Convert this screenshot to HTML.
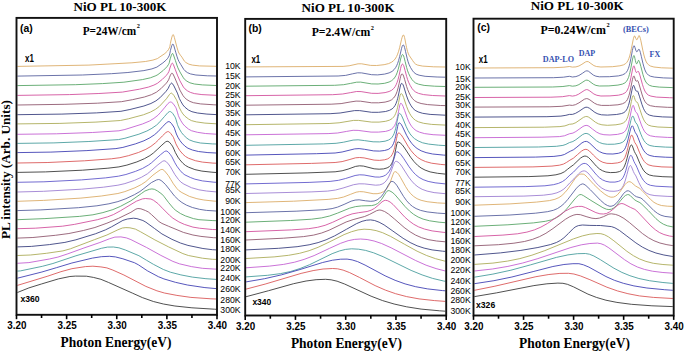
<!DOCTYPE html>
<html><head><meta charset="utf-8"><style>
html,body{margin:0;padding:0;background:#fff;}
body{width:685px;height:351px;overflow:hidden;font-family:"Liberation Sans", sans-serif;}
svg{display:block;}
</style></head><body>
<svg width="685" height="351" viewBox="0 0 685 351">
<rect width="685" height="351" fill="#fff"/>
<defs>
<clipPath id="clipA"><rect x="16.5" y="17.9" width="200.5" height="296.90000000000003"/></clipPath>
<clipPath id="clipB"><rect x="245.2" y="18.9" width="201.0" height="296.6"/></clipPath>
<clipPath id="clipC"><rect x="473.5" y="18.7" width="200.20000000000005" height="296.8"/></clipPath>
</defs>
<g clip-path="url(#clipA)">
<polyline points="17.4,66.4 88.9,65.1 131.9,62.8 145.4,61.5 152.9,60.1 157.4,58.6 164.9,53.5 167.4,51.1 168.4,49.7 169.4,47.8 169.9,46.4 170.4,43.5 170.9,41.0 171.9,37.1 172.4,35.5 172.9,34.7 173.4,34.8 173.9,35.9 174.4,37.6 176.9,47.1 177.9,50.4 178.4,51.9 178.9,53.0 180.4,55.2 181.9,57.1 184.4,61.2 185.9,62.5 188.9,64.2 192.4,65.1 199.4,65.9 216.1,66.3" fill="none" stroke="#d9a860" stroke-width="0.85" stroke-linejoin="round"/>
<polyline points="17.4,76.1 82.4,75.0 111.4,73.7 127.9,72.5 143.9,70.6 151.9,68.9 156.9,67.1 162.9,62.9 165.9,60.3 167.4,58.7 168.4,57.2 169.4,55.2 169.9,53.2 170.4,50.5 171.4,46.9 171.9,45.4 172.4,44.3 172.9,44.0 173.4,44.6 173.9,45.9 175.9,52.8 176.9,56.2 177.9,59.2 178.9,61.4 180.9,64.7 183.9,69.6 184.9,70.7 187.4,72.6 190.4,73.9 195.9,75.0 207.4,75.8 216.1,76.0" fill="none" stroke="#505a9a" stroke-width="0.85" stroke-linejoin="round"/>
<polyline points="17.4,85.6 75.4,84.7 102.4,83.6 123.9,82.2 142.4,79.6 150.4,77.8 155.9,75.7 157.9,74.6 163.4,70.3 166.9,66.8 168.4,64.6 168.9,63.7 169.4,62.3 169.9,60.0 170.4,58.2 171.4,55.2 171.9,54.1 172.4,53.5 172.9,53.7 173.4,54.7 175.4,60.5 176.9,65.1 177.9,67.8 179.9,71.9 183.4,77.8 184.4,79.2 186.9,81.2 189.9,82.8 194.4,84.0 202.4,84.9 216.1,85.5" fill="none" stroke="#50a060" stroke-width="0.85" stroke-linejoin="round"/>
<polyline points="17.4,95.4 69.4,94.6 98.9,93.5 122.4,92.1 139.4,89.2 148.4,87.1 153.9,85.1 157.4,83.3 162.4,79.3 166.4,75.3 167.9,73.3 168.9,71.5 169.4,69.9 169.9,68.0 170.9,65.3 171.4,64.2 171.9,63.4 172.4,63.2 172.9,63.6 173.4,64.6 175.4,69.8 177.4,75.1 179.9,80.8 183.4,87.0 184.9,88.8 187.4,90.8 190.4,92.4 194.4,93.6 201.9,94.6 216.1,95.3" fill="none" stroke="#d04898" stroke-width="0.85" stroke-linejoin="round"/>
<polyline points="17.4,105.0 64.9,104.3 97.4,103.2 121.4,101.7 132.4,99.7 144.4,97.0 151.4,94.7 156.4,92.2 160.9,88.7 166.4,83.1 167.9,81.0 168.9,79.2 169.4,77.6 170.4,75.2 170.9,74.2 171.4,73.5 171.9,73.1 172.4,73.3 172.9,73.9 174.4,76.9 178.4,86.3 179.9,90.1 182.9,95.4 184.4,97.4 186.9,99.6 189.9,101.4 193.4,102.7 200.4,103.9 213.9,104.8 216.1,104.9" fill="none" stroke="#8a5068" stroke-width="0.85" stroke-linejoin="round"/>
<polyline points="17.4,114.7 61.9,114.1 96.4,112.9 120.9,111.3 129.9,109.5 143.9,106.0 150.9,103.5 155.9,100.9 159.9,97.8 165.9,91.5 167.9,88.8 168.4,88.0 169.4,85.7 170.4,84.1 170.9,83.5 171.4,83.1 171.9,83.2 172.4,83.6 173.9,85.9 177.4,93.1 179.4,98.6 180.9,101.5 182.9,104.9 184.9,107.2 188.4,110.0 191.9,111.7 197.4,113.0 206.9,114.1 216.1,114.6" fill="none" stroke="#303878" stroke-width="0.85" stroke-linejoin="round"/>
<polyline points="17.4,123.9 59.9,123.4 95.9,122.1 120.4,120.5 128.4,118.8 143.4,114.8 150.4,112.1 155.4,109.4 159.4,106.4 166.4,98.8 168.4,96.0 169.4,94.6 170.4,93.5 171.4,93.1 172.4,93.7 173.9,95.5 176.4,99.7 176.9,100.7 177.9,103.5 178.9,106.5 179.4,107.8 181.4,111.6 182.9,113.9 184.9,116.2 188.4,118.9 191.4,120.6 196.4,121.9 204.9,123.1 216.1,123.8" fill="none" stroke="#a8a850" stroke-width="0.85" stroke-linejoin="round"/>
<polyline points="17.4,134.3 56.4,133.8 92.4,132.5 118.9,130.8 124.9,129.5 142.4,124.0 149.4,121.1 153.9,118.4 157.9,115.3 160.4,112.6 164.4,107.9 167.9,103.6 169.4,102.4 170.4,102.0 171.4,102.2 172.9,103.3 174.9,106.1 175.9,107.7 176.4,108.9 177.4,112.2 178.4,115.6 178.9,116.9 180.9,120.8 182.9,123.9 184.9,126.1 188.4,129.0 191.4,130.7 197.4,132.3 205.4,133.5 216.1,134.2" fill="none" stroke="#c058d0" stroke-width="0.85" stroke-linejoin="round"/>
<polyline points="17.4,143.4 53.9,142.9 88.9,141.5 118.4,139.6 124.9,138.3 138.9,134.2 146.9,131.0 151.9,128.3 156.4,125.2 158.9,122.9 164.4,116.6 167.9,112.6 169.4,111.6 170.4,111.6 171.4,112.1 172.9,113.7 174.9,116.8 175.4,117.8 175.9,119.2 177.4,124.4 177.9,125.8 179.4,129.0 181.4,132.4 183.4,134.9 186.9,138.2 189.4,139.9 193.9,141.6 200.4,143.0 212.4,143.9 216.1,144.0" fill="none" stroke="#409898" stroke-width="0.85" stroke-linejoin="round"/>
<polyline points="17.4,152.6 50.9,152.1 86.9,150.6 115.9,148.6 122.9,147.4 135.4,143.9 143.9,140.8 149.9,137.8 154.4,134.8 157.9,131.8 162.9,126.4 166.4,122.8 167.9,121.8 168.9,121.6 169.9,122.0 171.4,123.4 173.9,127.1 174.4,128.2 176.4,134.0 177.9,137.2 179.9,140.5 181.9,143.1 184.9,146.1 187.9,148.2 192.4,150.0 198.4,151.5 207.9,152.6 216.1,153.0" fill="none" stroke="#3838b0" stroke-width="0.85" stroke-linejoin="round"/>
<polyline points="17.4,163.0 47.9,162.5 84.4,160.8 111.4,158.8 119.9,157.7 128.4,155.7 138.4,152.5 145.9,149.3 150.9,146.4 155.4,142.9 158.4,140.0 162.4,135.9 165.9,132.5 167.4,131.7 168.4,131.6 169.4,132.1 170.9,133.7 172.9,136.5 173.4,137.3 174.4,139.8 175.9,143.8 177.9,147.6 179.9,150.7 182.9,154.2 185.4,156.4 188.4,158.2 195.4,160.7 202.4,162.1 212.9,163.1 216.1,163.2" fill="none" stroke="#d85050" stroke-width="0.85" stroke-linejoin="round"/>
<polyline points="17.4,172.4 45.4,171.9 82.4,170.2 107.9,168.2 118.9,166.9 126.9,165.1 136.9,161.9 144.4,158.7 149.9,155.6 153.4,153.0 157.9,148.9 161.9,145.1 165.4,142.0 166.9,141.3 167.9,141.3 169.4,142.2 171.4,144.6 172.9,146.9 173.9,149.1 175.4,152.6 177.9,157.1 179.9,159.9 182.9,163.3 185.4,165.4 188.4,167.1 194.9,169.6 201.9,171.1 211.9,172.2 216.1,172.5" fill="none" stroke="#303030" stroke-width="0.85" stroke-linejoin="round"/>
<polyline points="17.4,182.3 43.9,181.8 81.4,179.9 105.4,177.9 118.4,176.2 125.9,174.5 135.4,171.4 142.4,168.5 148.4,165.1 151.4,162.9 160.4,154.8 164.4,151.6 165.9,151.0 166.9,151.1 168.4,152.2 170.4,154.6 171.9,156.8 174.9,162.8 176.9,166.2 179.9,170.2 182.4,173.0 184.9,174.9 190.4,177.5 194.9,179.2 202.4,180.9 213.9,182.2 216.1,182.3" fill="none" stroke="#5850c8" stroke-width="0.85" stroke-linejoin="round"/>
<polyline points="17.4,192.0 43.4,191.3 81.4,189.2 103.4,187.2 117.9,185.2 124.9,183.6 134.4,180.4 141.4,177.3 147.4,173.8 150.9,170.9 157.9,164.8 162.4,161.4 163.9,160.8 164.9,160.9 166.4,161.8 168.4,164.0 170.4,166.8 174.9,174.6 178.4,179.4 180.9,182.1 183.9,184.1 191.4,187.7 198.9,189.8 206.4,191.0 216.1,191.9" fill="none" stroke="#9878d0" stroke-width="0.85" stroke-linejoin="round"/>
<polyline points="17.4,201.3 43.4,200.4 80.9,198.1 101.4,196.0 117.9,193.5 124.9,191.6 134.9,187.8 141.4,184.5 145.9,181.5 152.9,175.2 156.9,172.2 160.4,169.8 161.9,169.4 162.9,169.6 164.4,170.7 168.4,175.6 170.9,179.7 173.4,183.8 176.9,188.5 178.9,190.6 181.9,192.6 189.4,196.4 196.9,198.7 203.9,200.0 213.9,201.1 216.1,201.2" fill="none" stroke="#d9a860" stroke-width="0.85" stroke-linejoin="round"/>
<polyline points="17.4,210.6 40.9,209.9 78.4,207.7 96.9,205.8 108.9,203.8 117.9,201.6 125.9,198.7 134.4,194.7 139.9,191.5 143.9,188.5 151.4,182.6 156.4,180.0 158.4,179.5 159.9,179.8 161.9,181.1 165.4,184.4 170.4,190.7 174.4,195.9 178.4,199.8 181.9,202.5 186.4,205.1 192.4,207.5 199.4,209.3 206.4,210.4 216.1,211.0" fill="none" stroke="#505a9a" stroke-width="0.85" stroke-linejoin="round"/>
<polyline points="17.4,219.7 44.9,218.6 79.4,216.4 92.9,214.8 102.9,212.6 112.9,209.6 120.4,206.4 130.9,200.8 141.4,193.5 144.9,191.0 149.4,189.3 151.9,188.9 154.4,189.3 157.4,190.9 161.9,194.1 163.9,196.3 168.4,202.3 173.4,208.3 175.9,210.5 180.4,213.5 185.4,215.9 193.4,218.6 198.9,219.7 212.9,220.6 216.1,220.7" fill="none" stroke="#50a060" stroke-width="0.85" stroke-linejoin="round"/>
<polyline points="17.4,228.7 35.4,228.2 62.4,226.2 74.4,224.4 97.4,219.7 107.4,216.9 113.4,214.6 120.4,210.8 136.4,201.2 142.4,198.9 145.4,198.5 150.9,199.0 153.4,200.2 157.9,203.5 162.4,208.2 169.4,215.2 172.9,218.2 178.9,221.9 184.4,224.4 192.9,227.1 199.4,228.2 212.4,229.5 216.1,229.6" fill="none" stroke="#d04898" stroke-width="0.85" stroke-linejoin="round"/>
<polyline points="17.4,238.1 32.9,237.5 55.4,235.3 68.9,233.5 83.4,230.5 94.9,227.5 106.9,223.2 118.4,218.4 130.9,212.3 135.9,209.1 137.9,208.5 140.9,208.8 145.4,210.5 148.4,212.0 151.4,214.5 158.9,221.5 161.9,223.4 168.4,226.2 183.4,232.4 192.9,235.0 200.9,236.4 213.4,237.7 216.1,237.8" fill="none" stroke="#8a5068" stroke-width="0.85" stroke-linejoin="round"/>
<polyline points="17.4,246.9 31.4,246.4 49.4,244.6 64.9,242.4 75.9,239.8 95.4,233.8 105.4,229.9 111.4,226.9 122.9,220.4 127.4,219.0 133.4,218.2 136.9,218.6 142.9,220.5 145.9,222.2 154.4,228.4 161.9,233.9 171.9,239.3 180.4,243.0 187.9,245.4 202.9,248.5 212.4,249.7 216.1,249.9" fill="none" stroke="#303878" stroke-width="0.85" stroke-linejoin="round"/>
<polyline points="17.4,255.5 30.4,255.0 46.4,253.3 62.9,250.9 70.4,248.8 94.4,239.7 106.9,235.0 117.9,229.8 122.4,228.0 125.9,227.6 129.9,227.8 135.4,229.1 140.4,231.7 154.9,239.9 168.4,246.8 182.9,253.6 188.4,255.5 202.4,258.2 212.4,259.3 216.1,259.4" fill="none" stroke="#a8a850" stroke-width="0.85" stroke-linejoin="round"/>
<polyline points="17.4,263.3 28.9,262.6 49.4,259.0 57.9,257.1 67.9,253.8 83.9,248.0 99.9,242.5 109.4,238.8 114.9,237.1 120.9,236.9 126.4,237.9 130.9,239.6 146.4,247.4 160.9,255.4 172.9,261.4 179.4,263.8 191.4,266.6 202.4,268.3 214.9,269.1 216.1,269.1" fill="none" stroke="#c058d0" stroke-width="0.85" stroke-linejoin="round"/>
<polyline points="17.4,271.1 20.4,270.9 42.4,266.3 52.9,263.5 75.9,255.8 101.4,248.3 107.4,247.1 113.4,247.0 118.9,247.8 125.4,250.0 138.9,255.7 146.4,260.2 153.4,264.3 163.4,269.5 170.4,272.2 180.9,274.9 192.4,277.1 205.9,278.7 216.1,279.4" fill="none" stroke="#409898" stroke-width="0.85" stroke-linejoin="round"/>
<polyline points="17.4,278.2 41.9,272.0 56.4,267.7 71.9,263.0 92.4,258.1 101.4,256.7 109.4,256.3 115.4,256.9 122.9,258.8 134.4,262.7 138.4,264.8 147.4,270.8 158.4,276.7 163.9,278.9 175.4,282.3 187.4,285.0 204.9,287.6 216.1,288.6" fill="none" stroke="#3838b0" stroke-width="0.85" stroke-linejoin="round"/>
<polyline points="17.4,285.4 47.9,276.1 60.9,271.7 71.9,268.7 85.4,266.6 92.9,266.2 100.9,266.9 106.9,267.9 112.9,270.1 123.9,275.0 145.9,286.4 156.9,290.8 164.4,293.0 176.9,295.4 190.9,297.4 210.9,298.8 216.1,299.0" fill="none" stroke="#d85050" stroke-width="0.85" stroke-linejoin="round"/>
<polyline points="17.4,292.5 28.9,287.9 41.4,284.0 58.4,278.9 69.9,276.5 75.4,276.1 86.4,276.2 93.4,277.4 100.9,279.3 108.4,282.4 132.4,293.1 142.4,297.6 153.4,301.5 163.4,304.0 174.9,306.0 191.9,307.8 214.4,309.2 216.1,309.3" fill="none" stroke="#303030" stroke-width="0.85" stroke-linejoin="round"/>
</g>
<g clip-path="url(#clipB)">
<polyline points="246.1,66.9 343.1,66.4 349.1,65.8 358.1,63.8 361.6,63.8 370.6,65.4 376.6,65.5 384.1,64.7 388.6,63.6 391.6,62.2 393.6,60.7 395.1,59.0 396.6,56.5 397.6,54.2 398.6,51.3 399.6,47.7 401.6,39.2 402.1,37.4 402.6,35.9 403.1,35.1 403.6,35.0 404.1,35.9 404.6,37.6 405.1,40.0 406.1,45.3 406.6,47.7 407.1,49.8 407.6,51.6 408.1,53.1 409.1,55.3 412.6,60.5 414.1,62.7 415.6,64.1 417.6,65.1 422.6,66.1 433.6,66.8 445.3,67.0" fill="none" stroke="#d9a860" stroke-width="0.85" stroke-linejoin="round"/>
<polyline points="246.1,76.9 338.1,76.0 345.6,75.4 352.6,73.8 357.6,72.8 361.6,72.9 371.6,74.7 377.6,74.9 384.6,74.1 389.1,72.9 392.1,71.4 394.1,69.6 395.6,67.6 396.6,65.8 397.6,63.5 398.6,60.5 399.6,56.7 401.6,48.3 402.1,46.6 402.6,45.4 403.1,44.9 403.6,45.1 404.1,46.0 404.6,47.5 405.6,51.7 407.1,58.2 408.1,61.8 409.1,64.5 410.6,67.6 412.6,70.8 414.1,72.6 416.1,74.1 419.1,75.2 425.1,76.3 437.1,77.0 445.3,77.2" fill="none" stroke="#505a9a" stroke-width="0.85" stroke-linejoin="round"/>
<polyline points="246.1,86.2 334.6,85.3 343.6,84.7 350.6,83.4 356.6,82.2 360.6,82.1 371.6,83.9 378.1,84.0 384.6,83.3 389.1,82.0 391.6,80.7 393.6,79.0 395.1,77.0 396.1,75.2 397.1,72.8 398.1,69.7 399.1,65.8 400.6,59.1 401.1,57.2 401.6,55.7 402.1,54.8 402.6,54.5 403.1,54.9 403.6,55.9 404.1,57.4 405.1,61.4 406.6,67.4 407.6,70.8 408.6,73.4 410.1,76.5 412.1,79.7 413.6,81.4 415.6,83.0 418.6,84.2 424.1,85.4 434.6,86.2 445.3,86.5" fill="none" stroke="#50a060" stroke-width="0.85" stroke-linejoin="round"/>
<polyline points="246.1,95.7 332.6,94.7 342.6,94.0 350.6,92.6 356.6,91.5 361.1,91.6 371.6,93.3 378.1,93.4 385.1,92.6 389.1,91.5 391.6,90.3 393.6,88.6 395.1,86.7 396.1,84.8 397.1,82.4 398.1,79.3 399.1,75.3 400.6,68.4 401.1,66.4 401.6,65.0 402.1,64.3 402.6,64.1 403.1,64.5 403.6,65.5 404.1,66.9 405.1,70.6 406.6,76.3 407.6,79.6 408.6,82.2 410.1,85.3 412.1,88.6 413.6,90.4 415.6,92.0 418.6,93.4 423.6,94.6 432.6,95.5 445.3,96.0" fill="none" stroke="#d04898" stroke-width="0.85" stroke-linejoin="round"/>
<polyline points="246.1,105.2 331.1,104.2 341.1,103.6 350.1,102.0 356.1,101.1 360.6,101.2 371.6,102.8 378.6,102.8 385.1,102.1 389.1,101.0 391.6,99.8 393.6,98.0 395.1,96.0 396.1,94.0 397.1,91.4 398.1,87.9 399.1,83.6 400.1,78.8 400.6,76.6 401.1,75.0 401.6,74.1 402.1,73.9 402.6,74.2 403.1,74.9 403.6,76.1 404.6,79.3 406.6,86.4 407.6,89.4 409.1,92.9 410.6,95.8 412.6,98.7 414.6,100.7 417.1,102.2 421.1,103.5 427.6,104.6 440.6,105.5 445.3,105.6" fill="none" stroke="#8a5068" stroke-width="0.85" stroke-linejoin="round"/>
<polyline points="246.1,114.8 330.1,113.7 340.1,113.0 354.6,110.6 359.6,110.6 371.6,112.3 378.6,112.3 385.6,111.5 389.6,110.3 392.1,108.9 393.6,107.5 395.1,105.4 396.1,103.3 397.1,100.5 397.6,98.7 398.1,96.7 399.1,92.0 400.1,87.1 400.6,85.1 401.1,83.8 401.6,83.4 402.1,83.5 402.6,84.0 403.1,84.9 403.6,86.1 405.1,91.0 406.6,95.9 408.1,100.0 409.6,103.2 411.1,105.8 413.1,108.5 415.1,110.3 418.1,111.9 422.6,113.3 430.1,114.4 445.1,115.2 445.3,115.2" fill="none" stroke="#303878" stroke-width="0.85" stroke-linejoin="round"/>
<polyline points="246.1,124.7 329.1,123.5 339.1,122.8 353.6,120.4 358.6,120.4 371.6,122.1 379.1,122.1 385.6,121.3 389.6,120.1 392.1,118.6 393.6,117.1 394.6,115.7 395.6,113.7 396.6,111.0 397.1,109.3 397.6,107.3 398.6,102.5 399.6,97.4 400.1,95.3 400.6,94.0 401.1,93.6 401.6,93.7 402.1,94.2 402.6,95.0 403.6,97.4 406.6,106.4 408.1,110.2 409.6,113.3 411.1,115.8 413.1,118.3 415.6,120.4 418.6,121.9 423.6,123.3 431.6,124.4 445.3,125.1" fill="none" stroke="#a8a850" stroke-width="0.85" stroke-linejoin="round"/>
<polyline points="246.1,134.8 328.1,133.6 337.6,133.0 346.6,131.4 353.1,130.3 358.1,130.4 371.1,132.1 378.6,132.1 385.6,131.4 389.1,130.4 391.6,129.1 393.1,127.7 394.6,125.6 395.6,123.4 396.1,122.1 396.6,120.5 397.1,118.6 397.6,116.4 398.6,111.2 399.1,108.5 399.6,106.0 400.1,104.2 400.6,103.3 401.1,103.3 401.6,103.7 402.1,104.4 403.1,106.4 404.6,110.4 407.1,117.5 408.6,121.1 410.1,124.0 411.6,126.3 413.6,128.6 416.1,130.6 419.6,132.2 424.6,133.6 433.1,134.7 445.3,135.3" fill="none" stroke="#c058d0" stroke-width="0.85" stroke-linejoin="round"/>
<polyline points="246.1,145.3 323.6,143.9 336.1,143.3 343.6,142.2 353.1,140.1 358.1,139.8 364.6,140.6 373.1,141.8 379.6,141.9 385.1,141.2 388.6,140.0 390.6,138.8 392.1,137.2 393.1,135.7 394.1,133.6 395.1,130.6 395.6,128.8 396.1,126.6 397.1,121.6 398.1,116.5 398.6,114.6 399.1,113.6 399.6,113.4 400.6,114.1 401.6,115.7 403.1,119.0 406.1,126.4 408.1,130.6 410.1,133.9 412.1,136.4 414.6,138.7 418.1,140.9 422.6,142.8 428.6,144.1 438.6,145.2 445.3,145.6" fill="none" stroke="#409898" stroke-width="0.85" stroke-linejoin="round"/>
<polyline points="246.1,155.1 316.6,153.7 335.1,153.0 342.1,152.0 354.6,148.9 359.1,148.6 364.6,149.3 373.6,150.9 379.6,151.1 384.6,150.5 388.1,149.5 390.1,148.3 391.6,146.8 392.6,145.3 393.6,143.3 394.6,140.4 395.1,138.6 395.6,136.6 396.6,131.7 397.6,126.6 398.1,124.5 398.6,123.2 399.1,122.8 400.1,123.2 401.1,124.2 402.6,126.9 406.6,135.3 409.1,139.7 411.6,143.2 414.1,146.0 417.1,148.5 421.1,150.8 426.1,152.6 432.6,154.0 443.6,155.1 445.3,155.2" fill="none" stroke="#3838b0" stroke-width="0.85" stroke-linejoin="round"/>
<polyline points="246.1,164.8 311.6,163.4 335.1,162.5 342.1,161.6 349.1,159.7 355.6,157.8 359.6,157.5 364.1,157.9 374.1,160.1 379.6,160.4 384.6,159.8 387.6,158.9 389.6,157.7 391.1,156.2 392.1,154.7 393.1,152.6 394.1,149.6 394.6,147.8 395.6,143.3 396.6,138.3 397.1,135.9 397.6,134.2 398.1,133.2 398.6,133.0 399.6,133.3 401.1,134.7 403.1,137.7 408.1,146.3 411.1,150.7 414.1,154.2 417.6,157.4 421.1,159.6 425.6,161.6 431.6,163.2 440.6,164.4 445.3,164.8" fill="none" stroke="#d85050" stroke-width="0.85" stroke-linejoin="round"/>
<polyline points="246.1,174.3 307.1,172.9 335.1,171.8 342.1,170.8 348.1,169.1 355.6,166.4 359.6,165.8 363.6,166.1 374.1,168.8 379.1,169.2 383.6,168.9 387.1,167.9 389.1,166.8 390.6,165.3 391.6,163.8 392.6,161.7 393.6,158.8 394.1,156.9 394.6,154.8 395.6,149.9 396.6,145.0 397.1,143.2 397.6,142.1 398.6,142.1 400.1,142.8 402.1,144.6 404.6,148.0 410.6,157.2 414.1,161.7 417.6,165.3 421.1,168.0 425.1,170.1 430.1,171.9 437.6,173.3 445.3,174.1" fill="none" stroke="#303030" stroke-width="0.85" stroke-linejoin="round"/>
<polyline points="246.1,183.9 309.1,182.4 330.1,181.4 338.6,180.3 345.6,178.5 355.1,175.5 359.6,174.8 364.1,175.0 375.1,177.0 379.6,177.1 383.1,176.3 385.6,175.1 387.6,173.3 389.1,171.4 390.6,168.7 391.6,166.4 392.6,163.5 394.1,158.4 395.1,154.9 395.6,153.4 396.1,152.4 396.6,151.8 397.6,151.9 399.1,152.7 401.1,154.8 403.6,158.3 409.1,166.8 412.6,171.4 415.6,174.6 419.1,177.4 423.1,179.6 428.1,181.4 435.1,182.8 445.3,183.9" fill="none" stroke="#5850c8" stroke-width="0.85" stroke-linejoin="round"/>
<polyline points="246.1,193.5 311.1,191.9 327.6,191.1 335.6,190.0 343.1,188.0 353.6,184.7 359.1,183.8 364.6,183.9 375.6,185.2 379.6,184.9 382.1,184.1 384.1,182.9 386.1,180.9 387.6,178.8 389.1,176.0 390.6,172.5 393.6,164.5 394.6,162.4 395.1,161.8 395.6,161.4 396.6,161.4 398.1,162.1 399.6,163.4 401.6,166.0 408.6,177.0 411.6,180.9 414.6,184.2 418.1,187.0 422.1,189.3 427.1,191.1 434.1,192.6 445.3,193.7" fill="none" stroke="#9878d0" stroke-width="0.85" stroke-linejoin="round"/>
<polyline points="246.1,202.6 293.6,201.2 328.1,199.4 337.6,198.4 343.6,197.0 350.6,194.3 356.1,192.2 359.6,191.6 363.6,191.8 373.1,193.7 377.1,193.7 380.6,193.0 383.6,191.6 385.6,189.9 387.1,188.2 388.6,185.8 390.1,182.5 392.1,177.0 393.1,174.3 393.6,173.1 394.1,172.3 394.6,171.7 395.6,171.7 397.1,172.6 398.6,174.3 400.6,177.6 405.6,186.6 408.1,190.5 410.6,193.6 413.6,196.4 417.1,198.7 421.1,200.3 427.1,201.7 437.6,202.9 445.3,203.3" fill="none" stroke="#d9a860" stroke-width="0.85" stroke-linejoin="round"/>
<polyline points="246.1,212.7 296.1,211.2 324.1,209.7 332.1,208.6 337.6,207.1 344.1,204.4 351.1,201.2 355.1,200.1 359.1,199.8 365.6,200.8 370.6,201.3 374.1,201.0 377.1,199.9 379.6,198.1 381.6,196.1 383.6,193.4 386.1,189.2 388.6,184.6 390.1,182.5 391.1,181.6 392.1,181.4 393.6,181.9 395.1,183.2 397.1,185.8 403.6,196.5 406.6,200.7 409.6,204.0 412.6,206.5 416.1,208.6 420.6,210.4 427.1,211.9 437.6,213.1 445.3,213.6" fill="none" stroke="#505a9a" stroke-width="0.85" stroke-linejoin="round"/>
<polyline points="246.1,222.2 290.6,220.5 311.6,219.2 321.6,217.9 329.6,216.0 337.6,213.1 349.6,208.2 355.6,206.6 361.6,205.9 371.6,205.6 375.1,204.8 377.6,203.5 379.6,201.8 381.6,199.4 384.6,194.7 386.1,192.4 387.1,191.2 388.1,190.6 389.6,190.8 392.1,192.2 394.6,194.3 398.6,198.9 405.1,206.6 409.6,211.1 413.6,214.3 418.1,217.0 423.1,219.1 429.6,220.8 439.1,222.2 445.3,222.7" fill="none" stroke="#50a060" stroke-width="0.85" stroke-linejoin="round"/>
<polyline points="246.1,231.7 291.6,229.9 308.6,228.7 317.6,227.3 325.1,225.3 332.6,222.3 346.1,216.0 352.1,213.9 358.6,212.7 367.1,211.5 371.1,210.2 374.6,208.3 378.1,205.4 382.1,201.8 384.1,200.6 385.6,200.3 387.6,200.7 390.1,202.0 393.1,204.5 398.6,210.4 404.6,216.9 409.1,220.9 413.6,224.2 418.6,226.9 424.6,229.1 432.1,230.9 443.1,232.3 445.3,232.5" fill="none" stroke="#d04898" stroke-width="0.85" stroke-linejoin="round"/>
<polyline points="246.1,240.0 283.6,238.2 303.6,236.6 313.6,235.1 321.6,233.0 329.1,230.2 346.1,222.0 353.1,219.6 364.6,216.5 369.6,214.4 376.6,210.7 379.1,210.0 381.1,210.2 384.6,211.5 388.6,214.1 394.6,219.1 404.1,227.4 410.1,231.8 415.6,235.1 421.6,237.7 428.1,239.6 436.6,241.0 445.3,241.8" fill="none" stroke="#8a5068" stroke-width="0.85" stroke-linejoin="round"/>
<polyline points="246.1,249.9 278.6,248.3 297.1,246.7 309.1,244.8 318.1,242.6 326.1,239.8 334.6,235.9 346.6,229.2 356.6,223.6 362.1,221.3 366.6,220.2 370.6,219.9 374.6,220.5 379.1,222.2 384.1,224.9 392.1,230.5 403.1,238.3 410.1,242.5 417.1,245.8 424.1,248.1 432.1,249.9 442.6,251.2 445.3,251.4" fill="none" stroke="#303878" stroke-width="0.85" stroke-linejoin="round"/>
<polyline points="246.1,258.5 274.1,256.9 288.6,255.3 299.6,253.3 309.1,250.7 318.1,247.3 329.1,242.1 344.1,234.6 351.6,231.7 358.1,229.9 364.1,229.2 370.1,229.5 376.1,230.6 382.6,232.7 390.6,236.4 404.6,244.3 417.1,251.2 426.6,255.5 435.6,258.7 445.1,261.2 445.3,261.2" fill="none" stroke="#a8a850" stroke-width="0.85" stroke-linejoin="round"/>
<polyline points="246.1,267.8 269.6,266.1 283.6,264.4 294.6,262.2 304.1,259.4 314.1,255.6 329.6,248.3 340.6,243.3 348.1,240.7 354.6,239.4 360.6,239.0 367.1,239.5 374.1,241.0 381.6,243.5 391.1,247.8 415.6,260.5 426.1,265.2 436.1,268.6 445.3,271.0" fill="none" stroke="#c058d0" stroke-width="0.85" stroke-linejoin="round"/>
<polyline points="246.1,276.9 267.6,275.3 280.6,273.6 290.6,271.5 300.1,268.5 309.6,264.7 332.1,253.7 339.6,250.9 345.6,249.4 351.6,248.8 358.6,249.2 365.6,250.4 373.6,252.8 383.1,256.7 411.1,270.4 422.1,274.9 432.6,278.4 443.6,281.0 445.3,281.3" fill="none" stroke="#409898" stroke-width="0.85" stroke-linejoin="round"/>
<polyline points="246.1,281.9 264.6,278.7 281.6,274.8 299.1,269.8 322.6,262.5 332.6,260.2 340.6,259.2 347.1,259.1 352.1,259.9 357.6,261.6 365.1,265.1 385.1,275.8 395.1,280.3 405.1,283.9 415.6,286.7 427.6,288.9 442.6,290.6 445.3,290.8" fill="none" stroke="#3838b0" stroke-width="0.85" stroke-linejoin="round"/>
<polyline points="246.1,289.1 265.1,284.1 301.1,273.4 313.1,270.6 323.1,269.0 332.6,268.5 337.6,268.8 343.1,270.1 349.6,272.6 359.6,277.5 375.1,285.6 385.6,290.2 395.6,293.7 406.6,296.6 419.1,298.9 434.6,300.6 445.3,301.4" fill="none" stroke="#d85050" stroke-width="0.85" stroke-linejoin="round"/>
<polyline points="246.1,296.7 268.6,290.7 293.6,283.7 306.1,281.0 316.1,279.7 325.6,279.3 331.1,279.8 337.1,281.2 344.6,284.0 371.1,296.2 382.6,300.6 394.1,304.0 406.6,306.8 421.1,309.1 439.6,310.8 445.3,311.2" fill="none" stroke="#303030" stroke-width="0.85" stroke-linejoin="round"/>
</g>
<g clip-path="url(#clipC)">
<polyline points="474.4,68.0 553.9,67.7 563.9,67.2 569.4,66.5 572.4,67.1 575.9,66.9 578.9,66.0 581.9,64.3 585.4,62.0 586.9,61.5 588.4,61.7 590.9,63.5 593.9,65.6 596.4,66.5 600.9,67.0 612.4,66.7 619.9,65.8 623.4,64.9 625.4,63.8 626.9,62.3 627.9,60.7 628.9,58.4 629.4,56.9 629.9,55.2 630.4,53.3 631.4,48.6 632.9,41.0 633.4,38.7 633.9,37.0 634.4,35.9 634.9,36.1 635.9,38.6 636.4,39.6 636.9,39.8 637.4,39.2 638.4,36.6 638.9,35.6 639.4,35.8 639.9,37.0 640.4,38.7 640.9,40.8 642.9,50.7 643.9,55.0 644.9,58.5 645.9,61.1 646.9,63.0 648.4,64.7 650.4,66.0 653.9,67.0 661.4,67.8 672.8,68.2" fill="none" stroke="#d9a860" stroke-width="0.85" stroke-linejoin="round"/>
<polyline points="474.4,78.0 553.4,77.7 563.4,77.2 569.4,76.3 572.4,77.0 575.9,76.6 578.9,75.5 582.4,73.3 585.4,71.2 586.9,70.8 588.4,71.2 593.4,75.1 595.9,76.2 599.4,76.8 609.4,76.7 618.4,75.9 622.4,74.9 624.9,73.7 626.4,72.2 627.4,70.7 628.4,68.4 628.9,66.9 629.4,65.2 629.9,63.2 630.9,58.4 632.4,50.4 632.9,48.2 633.4,46.6 633.9,45.7 634.4,46.0 634.9,47.3 635.9,50.5 636.4,51.5 636.9,51.8 637.4,51.4 638.4,49.5 638.9,49.1 639.4,49.7 639.9,50.9 640.4,52.6 641.4,56.7 642.9,63.2 643.9,66.9 644.9,69.9 645.9,72.1 646.9,73.6 648.4,75.1 650.4,76.2 654.4,77.1 663.4,77.9 672.8,78.2" fill="none" stroke="#505a9a" stroke-width="0.85" stroke-linejoin="round"/>
<polyline points="474.4,87.3 552.4,87.0 562.9,86.5 569.4,85.6 572.4,86.2 575.9,85.8 578.9,84.6 582.9,82.0 585.4,80.4 586.9,80.1 588.4,80.5 593.4,84.2 595.9,85.4 599.4,86.0 608.9,85.9 617.9,85.1 622.4,84.1 624.9,82.9 626.4,81.5 627.4,79.9 628.4,77.7 628.9,76.2 629.4,74.5 629.9,72.5 630.9,67.8 632.4,59.9 632.9,57.8 633.4,56.2 633.9,55.5 634.4,56.2 634.9,58.3 635.4,60.6 635.9,62.6 636.4,63.7 636.9,63.7 637.4,62.9 637.9,61.5 638.4,60.4 638.9,60.5 639.4,61.6 639.9,63.0 640.9,66.6 642.9,74.4 643.9,77.6 644.9,80.1 645.9,82.0 647.4,83.9 649.4,85.3 652.4,86.3 659.4,87.1 672.8,87.6" fill="none" stroke="#50a060" stroke-width="0.85" stroke-linejoin="round"/>
<polyline points="474.4,97.5 550.9,97.2 562.4,96.7 569.4,95.6 572.4,96.1 575.4,95.6 578.4,94.3 584.9,90.1 586.4,89.6 587.9,89.8 589.9,91.0 593.9,94.0 596.9,95.3 600.9,96.0 609.9,95.9 618.4,95.2 622.4,94.2 624.9,93.0 626.4,91.5 627.4,90.0 628.4,87.7 628.9,86.2 629.4,84.4 629.9,82.4 630.9,77.7 632.4,70.0 632.9,67.9 633.4,66.4 633.9,65.8 634.4,66.6 635.4,70.4 635.9,71.9 636.4,72.6 636.9,72.4 637.9,71.3 638.4,71.5 638.9,72.3 639.9,75.2 642.4,84.3 643.4,87.4 644.4,90.0 645.4,91.9 646.9,93.9 648.4,95.1 650.9,96.1 656.4,97.1 669.4,97.7 672.8,97.8" fill="none" stroke="#d04898" stroke-width="0.85" stroke-linejoin="round"/>
<polyline points="474.4,107.1 549.9,106.8 561.9,106.3 569.4,105.1 572.4,105.4 575.4,104.7 578.9,102.9 584.4,99.2 586.4,98.6 587.9,98.8 589.9,99.9 594.4,103.2 597.4,104.6 601.4,105.4 609.4,105.4 617.9,104.8 622.4,103.8 624.9,102.5 626.4,101.1 627.4,99.5 628.4,97.2 628.9,95.7 629.4,93.9 629.9,91.9 630.9,87.2 631.9,82.1 632.4,79.7 632.9,77.8 633.4,76.4 633.9,75.9 634.4,76.7 635.4,80.0 635.9,81.0 636.4,81.2 637.4,80.5 637.9,80.9 638.9,83.7 641.9,94.0 642.9,97.0 643.9,99.5 644.9,101.4 646.4,103.4 647.9,104.6 650.4,105.7 655.4,106.6 667.4,107.3 672.8,107.4" fill="none" stroke="#8a5068" stroke-width="0.85" stroke-linejoin="round"/>
<polyline points="474.4,117.1 546.9,116.7 560.9,116.1 565.9,115.3 569.4,114.4 572.4,114.4 575.4,113.4 578.9,111.4 583.9,108.0 585.9,107.2 587.4,107.3 589.4,108.2 594.9,112.4 597.9,113.9 601.4,114.8 607.4,115.1 616.4,114.5 621.4,113.6 623.9,112.6 625.4,111.4 626.4,110.1 627.4,108.3 628.4,105.6 628.9,104.0 629.9,99.9 631.9,90.2 632.4,88.0 632.9,86.4 633.4,85.5 633.9,85.5 634.4,86.7 635.4,89.9 635.9,90.8 636.4,91.1 637.4,91.0 637.9,91.7 639.4,96.2 641.9,104.3 643.4,108.3 644.4,110.4 645.9,112.6 647.4,114.1 649.4,115.1 653.4,116.1 662.4,116.9 672.8,117.2" fill="none" stroke="#303878" stroke-width="0.85" stroke-linejoin="round"/>
<polyline points="474.4,127.6 544.4,127.2 559.9,126.6 564.9,125.9 569.4,124.3 572.9,123.9 575.9,122.6 583.4,117.4 585.4,116.6 586.9,116.5 588.4,117.0 590.9,118.7 595.4,122.2 598.4,123.8 601.9,124.8 607.4,125.3 615.9,124.8 620.9,123.9 623.4,122.9 624.9,121.8 625.9,120.7 626.9,118.9 627.9,116.4 628.9,113.0 629.9,108.6 631.4,101.3 631.9,99.1 632.4,97.2 632.9,95.9 633.4,95.5 633.9,96.1 634.4,97.5 634.9,99.2 635.4,100.6 635.9,101.5 636.4,101.9 636.9,102.0 637.4,102.4 637.9,103.4 639.9,109.4 641.9,115.4 643.4,119.1 644.9,121.8 646.4,123.6 648.4,125.1 651.4,126.1 657.9,127.0 672.8,127.6" fill="none" stroke="#a8a850" stroke-width="0.85" stroke-linejoin="round"/>
<polyline points="474.4,137.7 541.9,137.2 559.4,136.6 564.4,135.8 569.4,133.8 572.9,133.1 575.9,131.5 582.9,126.5 584.9,125.6 586.9,125.4 588.9,126.2 592.4,129.0 596.4,132.0 599.9,133.8 603.9,134.7 609.9,135.0 617.4,134.4 621.9,133.3 623.9,132.3 625.4,130.8 626.4,129.2 627.4,126.9 628.4,123.7 629.4,119.6 631.4,110.0 631.9,107.9 632.4,106.4 632.9,105.5 633.4,105.6 633.9,106.7 634.9,110.0 635.4,111.4 635.9,112.2 636.9,113.0 637.4,113.7 641.4,124.9 642.9,128.4 644.4,131.2 645.9,133.1 647.9,134.7 650.4,135.8 655.4,136.7 667.4,137.4 672.8,137.5" fill="none" stroke="#c058d0" stroke-width="0.85" stroke-linejoin="round"/>
<polyline points="474.4,147.5 538.4,147.0 556.4,146.3 562.9,145.4 565.9,144.4 569.4,142.6 572.9,141.5 575.9,139.7 582.4,134.7 584.9,133.5 586.9,133.5 588.9,134.3 591.9,136.8 596.4,140.7 599.4,142.5 602.9,143.7 607.4,144.3 614.4,144.2 619.9,143.3 622.4,142.3 623.9,141.2 624.9,140.0 625.9,138.3 626.9,136.0 627.9,132.8 628.9,128.9 630.9,120.3 631.4,118.5 631.9,117.1 632.4,116.3 632.9,116.1 633.4,116.6 633.9,117.9 634.9,121.0 635.4,122.1 635.9,122.9 636.9,124.0 637.4,124.9 640.9,134.2 642.4,137.7 643.9,140.5 645.4,142.5 647.4,144.3 649.9,145.5 654.4,146.4 665.4,147.1 672.8,147.3" fill="none" stroke="#409898" stroke-width="0.85" stroke-linejoin="round"/>
<polyline points="474.4,157.6 535.4,157.1 553.9,156.4 560.9,155.5 564.4,154.5 567.9,152.5 570.4,151.2 573.4,149.8 576.9,147.1 581.9,142.9 584.4,141.6 586.4,141.4 587.9,141.9 589.9,143.3 596.4,149.5 599.4,151.6 602.9,153.1 606.9,153.9 612.9,154.0 618.4,153.3 621.4,152.3 622.9,151.3 624.4,149.6 625.4,147.8 626.4,145.3 627.4,142.1 628.4,138.2 629.9,131.8 630.4,129.8 630.9,128.1 631.4,126.8 631.9,126.0 632.4,125.9 632.9,126.4 633.4,127.5 634.9,131.7 635.4,132.7 636.9,134.9 637.9,137.4 640.9,145.0 642.4,148.2 643.9,150.8 645.4,152.7 647.4,154.4 649.9,155.5 654.4,156.5 665.4,157.2 672.8,157.4" fill="none" stroke="#3838b0" stroke-width="0.85" stroke-linejoin="round"/>
<polyline points="474.4,167.4 532.9,166.9 551.9,166.1 559.4,165.2 563.4,164.1 566.4,162.5 569.9,160.2 573.4,158.2 577.4,154.7 581.4,151.2 583.9,149.7 585.9,149.3 587.4,149.7 589.4,151.0 593.4,155.1 596.9,158.5 599.9,160.8 602.9,162.3 606.9,163.3 611.9,163.5 617.4,162.9 620.4,162.1 622.4,160.9 623.9,159.2 624.9,157.4 625.9,154.9 626.9,151.6 627.9,147.6 629.4,141.1 629.9,139.1 630.4,137.4 630.9,136.0 631.4,135.2 631.9,135.1 632.4,135.8 632.9,137.0 634.4,141.6 634.9,142.7 636.4,144.9 636.9,145.9 639.4,152.2 641.4,156.7 642.9,159.4 644.4,161.6 646.4,163.6 648.9,165.0 652.9,166.0 661.9,166.9 672.8,167.2" fill="none" stroke="#d85050" stroke-width="0.85" stroke-linejoin="round"/>
<polyline points="474.4,177.2 528.9,176.6 547.9,175.8 555.9,174.8 560.9,173.5 564.4,171.8 567.4,169.4 569.9,167.4 573.4,164.9 580.4,158.2 582.9,156.6 584.9,156.0 586.4,156.3 588.4,157.4 590.9,159.9 596.4,166.2 599.4,168.9 602.4,170.7 605.9,172.0 610.4,172.6 615.9,172.4 619.4,171.6 621.4,170.5 622.9,168.9 623.9,167.3 624.9,165.1 625.9,162.3 626.9,158.8 628.9,150.7 629.4,148.8 629.9,147.2 630.4,146.0 630.9,145.2 631.4,144.9 631.9,145.2 632.4,146.1 634.4,151.6 635.4,153.5 636.4,155.1 639.9,163.5 641.9,167.6 643.4,170.1 644.9,172.0 646.9,173.7 649.4,175.0 653.4,175.9 662.9,176.7 672.8,177.0" fill="none" stroke="#303030" stroke-width="0.85" stroke-linejoin="round"/>
<polyline points="474.4,187.2 525.9,186.6 544.9,185.8 553.4,184.7 558.4,183.4 562.4,181.6 565.4,179.5 569.9,175.1 573.4,172.2 579.4,165.9 581.9,164.1 583.9,163.4 585.4,163.5 586.9,164.1 588.9,165.8 592.4,169.9 596.4,174.8 599.4,177.7 602.4,179.8 605.9,181.3 609.9,182.1 614.9,182.1 618.4,181.4 620.4,180.5 621.9,179.2 622.9,177.8 623.9,175.9 624.9,173.4 625.9,170.3 627.4,164.6 628.9,159.0 629.4,157.5 629.9,156.3 630.4,155.5 630.9,155.3 631.4,155.6 631.9,156.3 632.9,158.8 633.9,161.4 634.9,163.4 635.9,165.0 636.9,167.2 639.4,173.1 641.4,177.2 643.4,180.3 645.4,182.6 647.4,184.1 650.4,185.3 655.9,186.2 669.9,186.9 672.8,187.0" fill="none" stroke="#5850c8" stroke-width="0.85" stroke-linejoin="round"/>
<polyline points="474.4,196.7 523.9,196.1 543.4,195.2 551.9,194.1 556.9,192.8 560.9,191.0 563.9,189.0 566.4,186.6 569.9,182.8 573.9,178.9 578.4,174.0 580.9,171.9 582.9,171.0 584.4,170.9 585.9,171.4 587.9,172.9 590.4,175.7 595.9,182.7 598.9,185.8 601.9,188.2 605.4,190.0 609.4,191.1 613.9,191.3 617.9,190.8 619.9,189.9 621.4,188.7 622.4,187.3 623.4,185.5 624.4,183.1 625.4,180.0 626.9,174.6 628.4,169.1 628.9,167.6 629.4,166.5 629.9,165.8 630.4,165.5 630.9,165.8 631.4,166.6 632.4,169.0 633.4,171.6 634.4,173.6 635.9,175.9 638.9,182.7 640.9,186.5 642.9,189.6 644.9,191.9 646.9,193.4 649.9,194.7 654.9,195.6 667.9,196.4 672.8,196.5" fill="none" stroke="#9878d0" stroke-width="0.85" stroke-linejoin="round"/>
<polyline points="474.4,205.2 509.9,203.9 536.4,202.1 549.4,200.6 554.9,199.3 558.9,197.6 561.9,195.5 564.9,192.6 567.9,189.0 574.9,178.9 577.4,176.0 579.4,174.5 580.9,174.0 583.4,174.2 584.9,174.9 587.4,177.4 593.9,184.5 600.4,190.7 604.9,194.3 608.4,196.4 610.9,197.2 613.4,197.1 615.4,196.3 617.4,194.8 619.9,191.9 624.9,184.7 626.9,182.6 628.4,181.8 629.9,181.7 631.4,182.4 635.4,185.9 639.9,188.5 641.9,190.4 650.4,199.3 653.9,202.3 657.4,204.2 661.4,205.5 667.4,206.2 672.8,206.4" fill="none" stroke="#d9a860" stroke-width="0.85" stroke-linejoin="round"/>
<polyline points="474.4,216.3 509.9,215.0 535.4,213.2 547.4,211.7 553.4,210.3 557.4,208.6 560.9,206.3 564.4,203.3 567.9,199.3 575.9,188.9 578.4,186.2 580.4,184.7 582.4,183.9 583.9,184.2 585.9,185.5 590.4,189.8 600.4,200.2 604.4,203.7 607.4,205.5 609.9,206.3 611.9,206.1 613.9,205.3 615.9,203.7 618.4,200.8 623.4,193.8 625.4,191.8 626.9,190.9 628.4,190.8 629.9,191.5 634.4,195.5 636.4,196.7 640.9,198.0 643.4,200.0 648.4,205.0 653.9,210.6 657.4,213.3 660.9,215.2 664.9,216.4 671.4,217.2 672.8,217.3" fill="none" stroke="#505a9a" stroke-width="0.85" stroke-linejoin="round"/>
<polyline points="474.4,226.3 507.9,224.8 533.4,222.9 545.4,221.3 551.4,219.9 555.9,218.0 559.9,215.5 563.4,212.5 567.4,208.1 575.4,198.3 578.4,195.4 579.9,194.6 581.4,194.6 583.4,195.6 590.9,200.4 602.9,207.7 606.4,209.2 608.9,209.6 611.4,209.2 613.9,207.9 616.4,205.7 620.4,200.8 623.4,197.3 625.4,195.5 627.4,194.6 628.9,194.7 630.4,195.7 634.4,199.7 636.9,201.2 639.9,202.6 641.9,204.3 648.4,210.7 655.9,218.6 659.9,222.0 663.4,224.2 667.4,225.8 672.8,226.9" fill="none" stroke="#50a060" stroke-width="0.85" stroke-linejoin="round"/>
<polyline points="474.4,236.5 502.9,235.1 517.4,233.8 526.9,232.1 534.4,229.9 540.9,227.1 547.4,223.5 556.4,217.4 565.4,211.1 570.4,208.4 574.4,207.0 578.4,206.4 581.9,206.4 585.4,207.5 595.9,212.6 599.9,213.8 603.4,214.0 606.4,213.5 609.4,212.0 612.9,209.4 617.9,205.0 619.9,203.9 621.9,203.5 623.9,204.0 630.4,207.4 634.9,209.4 636.9,211.0 644.4,219.0 650.9,225.9 655.4,229.8 659.4,232.5 663.9,234.5 669.4,236.0 672.8,236.5" fill="none" stroke="#d04898" stroke-width="0.85" stroke-linejoin="round"/>
<polyline points="474.4,245.8 498.4,244.7 513.9,243.2 524.4,241.5 532.4,239.4 539.4,236.7 545.9,233.3 552.9,228.6 565.4,219.3 569.9,216.6 573.9,215.0 576.9,214.4 580.4,214.7 586.9,216.8 591.9,218.2 595.9,218.6 599.4,218.1 603.4,216.7 608.9,214.1 611.4,213.8 615.4,214.4 618.9,215.6 623.9,218.4 629.4,222.5 642.4,233.5 648.4,237.7 653.9,240.7 659.9,243.0 666.9,244.7 672.8,245.6" fill="none" stroke="#8a5068" stroke-width="0.85" stroke-linejoin="round"/>
<polyline points="474.4,255.0 500.4,252.9 520.9,250.4 537.9,247.5 550.4,244.6 556.4,242.5 560.4,240.4 563.9,237.8 568.4,233.5 573.4,228.4 575.9,226.6 578.4,225.6 582.4,225.0 589.9,225.4 596.4,225.5 600.4,225.5 611.4,226.6 614.9,227.8 619.4,230.4 626.9,236.1 635.9,242.9 642.4,247.1 648.9,250.4 655.9,253.0 663.9,255.0 672.8,256.5" fill="none" stroke="#303878" stroke-width="0.85" stroke-linejoin="round"/>
<polyline points="474.4,264.4 492.9,263.1 507.4,261.1 519.9,258.6 531.9,255.2 544.9,250.6 573.4,238.9 582.4,235.9 589.9,234.2 596.9,233.5 600.9,233.7 604.4,234.7 608.4,236.8 613.9,240.8 626.9,251.3 633.4,255.7 639.4,258.9 645.9,261.4 653.4,263.3 662.9,264.5 672.8,265.2" fill="none" stroke="#a8a850" stroke-width="0.85" stroke-linejoin="round"/>
<polyline points="474.4,271.0 492.4,269.0 507.9,266.4 522.4,263.1 537.9,258.6 570.9,247.5 581.4,244.8 589.9,243.5 597.4,243.1 600.9,243.7 604.4,245.1 608.9,247.9 624.4,259.6 630.9,263.8 637.4,267.0 644.4,269.4 652.4,271.2 662.9,272.5 672.8,273.2" fill="none" stroke="#c058d0" stroke-width="0.85" stroke-linejoin="round"/>
<polyline points="474.4,277.2 492.9,274.1 510.9,270.2 530.4,264.9 556.4,257.4 567.9,254.9 577.4,253.7 585.4,253.5 589.4,254.2 593.9,256.0 600.4,259.7 613.9,268.2 621.9,272.4 629.9,275.7 638.9,278.5 649.4,280.7 662.9,282.5 672.8,283.4" fill="none" stroke="#409898" stroke-width="0.85" stroke-linejoin="round"/>
<polyline points="474.4,283.7 493.9,280.7 511.9,277.0 533.9,271.4 552.9,266.5 563.9,264.5 572.9,263.7 578.9,263.7 583.4,264.8 588.9,267.1 605.9,276.5 614.4,280.3 623.4,283.3 633.9,285.9 646.9,288.0 664.4,289.7 672.8,290.3" fill="none" stroke="#3838b0" stroke-width="0.85" stroke-linejoin="round"/>
<polyline points="474.4,290.3 494.9,286.2 535.9,276.7 548.9,274.5 559.9,273.4 568.4,273.3 573.9,274.0 580.4,275.9 589.9,279.7 606.9,287.2 617.4,290.9 627.9,293.7 639.4,295.9 653.4,297.4 672.8,298.5" fill="none" stroke="#d85050" stroke-width="0.85" stroke-linejoin="round"/>
<polyline points="474.4,296.6 496.4,292.9 533.9,285.6 546.9,283.8 557.9,283.1 562.9,283.3 567.4,284.3 573.4,286.8 587.9,294.1 596.4,297.4 605.9,300.2 616.9,302.4 631.4,304.3 651.9,305.8 672.8,306.6" fill="none" stroke="#303030" stroke-width="0.85" stroke-linejoin="round"/>
</g>
<rect x="16.50" y="17.90" width="200.50" height="296.90" fill="none" stroke="#111" stroke-width="1.9"/>
<line x1="16.50" y1="314.80" x2="16.50" y2="319.20" stroke="#000" stroke-width="1.6"/>
<line x1="41.56" y1="314.80" x2="41.56" y2="318.00" stroke="#000" stroke-width="1.6"/>
<line x1="66.62" y1="314.80" x2="66.62" y2="319.20" stroke="#000" stroke-width="1.6"/>
<line x1="91.69" y1="314.80" x2="91.69" y2="318.00" stroke="#000" stroke-width="1.6"/>
<line x1="116.75" y1="314.80" x2="116.75" y2="319.20" stroke="#000" stroke-width="1.6"/>
<line x1="141.81" y1="314.80" x2="141.81" y2="318.00" stroke="#000" stroke-width="1.6"/>
<line x1="166.88" y1="314.80" x2="166.88" y2="319.20" stroke="#000" stroke-width="1.6"/>
<line x1="191.94" y1="314.80" x2="191.94" y2="318.00" stroke="#000" stroke-width="1.6"/>
<line x1="217.00" y1="314.80" x2="217.00" y2="319.20" stroke="#000" stroke-width="1.6"/>
<text x="16.90" y="329.10" font-family='"Liberation Sans", sans-serif' font-size="10.6" font-weight="bold" text-anchor="middle" fill="#000" textLength="19.2" lengthAdjust="spacingAndGlyphs">3.20</text>
<text x="67.03" y="329.10" font-family='"Liberation Sans", sans-serif' font-size="10.6" font-weight="bold" text-anchor="middle" fill="#000" textLength="19.2" lengthAdjust="spacingAndGlyphs">3.25</text>
<text x="117.15" y="329.10" font-family='"Liberation Sans", sans-serif' font-size="10.6" font-weight="bold" text-anchor="middle" fill="#000" textLength="19.2" lengthAdjust="spacingAndGlyphs">3.30</text>
<text x="167.28" y="329.10" font-family='"Liberation Sans", sans-serif' font-size="10.6" font-weight="bold" text-anchor="middle" fill="#000" textLength="19.2" lengthAdjust="spacingAndGlyphs">3.35</text>
<text x="217.40" y="329.10" font-family='"Liberation Sans", sans-serif' font-size="10.6" font-weight="bold" text-anchor="middle" fill="#000" textLength="19.2" lengthAdjust="spacingAndGlyphs">3.40</text>
<rect x="245.20" y="18.90" width="201.00" height="296.60" fill="none" stroke="#111" stroke-width="1.9"/>
<line x1="245.20" y1="315.50" x2="245.20" y2="319.90" stroke="#000" stroke-width="1.6"/>
<line x1="270.32" y1="315.50" x2="270.32" y2="318.70" stroke="#000" stroke-width="1.6"/>
<line x1="295.45" y1="315.50" x2="295.45" y2="319.90" stroke="#000" stroke-width="1.6"/>
<line x1="320.57" y1="315.50" x2="320.57" y2="318.70" stroke="#000" stroke-width="1.6"/>
<line x1="345.70" y1="315.50" x2="345.70" y2="319.90" stroke="#000" stroke-width="1.6"/>
<line x1="370.82" y1="315.50" x2="370.82" y2="318.70" stroke="#000" stroke-width="1.6"/>
<line x1="395.95" y1="315.50" x2="395.95" y2="319.90" stroke="#000" stroke-width="1.6"/>
<line x1="421.07" y1="315.50" x2="421.07" y2="318.70" stroke="#000" stroke-width="1.6"/>
<line x1="446.20" y1="315.50" x2="446.20" y2="319.90" stroke="#000" stroke-width="1.6"/>
<text x="245.60" y="329.80" font-family='"Liberation Sans", sans-serif' font-size="10.6" font-weight="bold" text-anchor="middle" fill="#000" textLength="19.2" lengthAdjust="spacingAndGlyphs">3.20</text>
<text x="295.85" y="329.80" font-family='"Liberation Sans", sans-serif' font-size="10.6" font-weight="bold" text-anchor="middle" fill="#000" textLength="19.2" lengthAdjust="spacingAndGlyphs">3.25</text>
<text x="346.10" y="329.80" font-family='"Liberation Sans", sans-serif' font-size="10.6" font-weight="bold" text-anchor="middle" fill="#000" textLength="19.2" lengthAdjust="spacingAndGlyphs">3.30</text>
<text x="396.35" y="329.80" font-family='"Liberation Sans", sans-serif' font-size="10.6" font-weight="bold" text-anchor="middle" fill="#000" textLength="19.2" lengthAdjust="spacingAndGlyphs">3.35</text>
<text x="446.60" y="329.80" font-family='"Liberation Sans", sans-serif' font-size="10.6" font-weight="bold" text-anchor="middle" fill="#000" textLength="19.2" lengthAdjust="spacingAndGlyphs">3.40</text>
<rect x="473.50" y="18.70" width="200.20" height="296.80" fill="none" stroke="#111" stroke-width="1.9"/>
<line x1="473.50" y1="315.50" x2="473.50" y2="319.90" stroke="#000" stroke-width="1.6"/>
<line x1="498.52" y1="315.50" x2="498.52" y2="318.70" stroke="#000" stroke-width="1.6"/>
<line x1="523.55" y1="315.50" x2="523.55" y2="319.90" stroke="#000" stroke-width="1.6"/>
<line x1="548.58" y1="315.50" x2="548.58" y2="318.70" stroke="#000" stroke-width="1.6"/>
<line x1="573.60" y1="315.50" x2="573.60" y2="319.90" stroke="#000" stroke-width="1.6"/>
<line x1="598.62" y1="315.50" x2="598.62" y2="318.70" stroke="#000" stroke-width="1.6"/>
<line x1="623.65" y1="315.50" x2="623.65" y2="319.90" stroke="#000" stroke-width="1.6"/>
<line x1="648.68" y1="315.50" x2="648.68" y2="318.70" stroke="#000" stroke-width="1.6"/>
<line x1="673.70" y1="315.50" x2="673.70" y2="319.90" stroke="#000" stroke-width="1.6"/>
<text x="473.90" y="329.80" font-family='"Liberation Sans", sans-serif' font-size="10.6" font-weight="bold" text-anchor="middle" fill="#000" textLength="19.2" lengthAdjust="spacingAndGlyphs">3.20</text>
<text x="523.95" y="329.80" font-family='"Liberation Sans", sans-serif' font-size="10.6" font-weight="bold" text-anchor="middle" fill="#000" textLength="19.2" lengthAdjust="spacingAndGlyphs">3.25</text>
<text x="574.00" y="329.80" font-family='"Liberation Sans", sans-serif' font-size="10.6" font-weight="bold" text-anchor="middle" fill="#000" textLength="19.2" lengthAdjust="spacingAndGlyphs">3.30</text>
<text x="624.05" y="329.80" font-family='"Liberation Sans", sans-serif' font-size="10.6" font-weight="bold" text-anchor="middle" fill="#000" textLength="19.2" lengthAdjust="spacingAndGlyphs">3.35</text>
<text x="674.10" y="329.80" font-family='"Liberation Sans", sans-serif' font-size="10.6" font-weight="bold" text-anchor="middle" fill="#000" textLength="19.2" lengthAdjust="spacingAndGlyphs">3.40</text>
<text x="120.00" y="11.40" font-family='"Liberation Serif", serif' font-size="13.4" font-weight="bold" text-anchor="middle" fill="#000" textLength="93" lengthAdjust="spacingAndGlyphs">NiO PL 10-300K</text>
<text x="348.10" y="11.80" font-family='"Liberation Serif", serif' font-size="13.4" font-weight="bold" text-anchor="middle" fill="#000" textLength="93" lengthAdjust="spacingAndGlyphs">NiO PL 10-300K</text>
<text x="577.20" y="9.60" font-family='"Liberation Serif", serif' font-size="13.4" font-weight="bold" text-anchor="middle" fill="#000" textLength="93" lengthAdjust="spacingAndGlyphs">NiO PL 10-300K</text>
<text x="116.00" y="346.80" font-family='"Liberation Serif", serif' font-size="13.6" font-weight="bold" text-anchor="middle" fill="#000" textLength="111" lengthAdjust="spacingAndGlyphs">Photon Energy(eV)</text>
<text x="346.40" y="348.00" font-family='"Liberation Serif", serif' font-size="13.6" font-weight="bold" text-anchor="middle" fill="#000" textLength="111" lengthAdjust="spacingAndGlyphs">Photon Energy(eV)</text>
<text x="574.50" y="348.00" font-family='"Liberation Serif", serif' font-size="13.6" font-weight="bold" text-anchor="middle" fill="#000" textLength="111" lengthAdjust="spacingAndGlyphs">Photon Energy(eV)</text>
<text transform="translate(9.9,169.6) rotate(-90)" font-family='"Liberation Serif", serif' font-size="12.4" font-weight="bold" text-anchor="middle" textLength="139" lengthAdjust="spacingAndGlyphs">PL intensity (Arb. Units)</text>
<text x="82.70" y="34.70" font-family='"Liberation Serif", serif' font-size="12" font-weight="bold" textLength="53.5" lengthAdjust="spacingAndGlyphs">P=24W/cm</text>
<text x="136.80" y="28.30" font-family='"Liberation Serif", serif' font-size="6.3" font-weight="bold">2</text>
<text x="311.70" y="36.20" font-family='"Liberation Serif", serif' font-size="12" font-weight="bold" textLength="58.5" lengthAdjust="spacingAndGlyphs">P=2.4W/cm</text>
<text x="370.80" y="29.80" font-family='"Liberation Serif", serif' font-size="6.3" font-weight="bold">2</text>
<text x="540.50" y="33.70" font-family='"Liberation Serif", serif' font-size="12" font-weight="bold" textLength="65.3" lengthAdjust="spacingAndGlyphs">P=0.24W/cm</text>
<text x="606.40" y="27.30" font-family='"Liberation Serif", serif' font-size="6.3" font-weight="bold">2</text>
<text x="20.00" y="31.70" font-family='"Liberation Sans", sans-serif' font-size="10.4" font-weight="bold" text-anchor="start" fill="#000" >(a)</text>
<text x="248.50" y="31.60" font-family='"Liberation Sans", sans-serif' font-size="10.4" font-weight="bold" text-anchor="start" fill="#000" >(b)</text>
<text x="477.20" y="31.20" font-family='"Liberation Sans", sans-serif' font-size="10.4" font-weight="bold" text-anchor="start" fill="#000" >(c)</text>
<text x="25.00" y="62.40" font-family='"Liberation Sans", sans-serif' font-size="10" font-weight="bold" text-anchor="start" fill="#000" textLength="8.8" lengthAdjust="spacingAndGlyphs">x1</text>
<text x="20.40" y="301.80" font-family='"Liberation Sans", sans-serif' font-size="9.8" font-weight="bold" text-anchor="start" fill="#000" textLength="19.2" lengthAdjust="spacingAndGlyphs">x360</text>
<text x="251.40" y="62.50" font-family='"Liberation Sans", sans-serif' font-size="10" font-weight="bold" text-anchor="start" fill="#000" textLength="8.8" lengthAdjust="spacingAndGlyphs">x1</text>
<text x="252.40" y="305.40" font-family='"Liberation Sans", sans-serif' font-size="9.8" font-weight="bold" text-anchor="start" fill="#000" textLength="18.8" lengthAdjust="spacingAndGlyphs">x340</text>
<text x="478.80" y="62.80" font-family='"Liberation Sans", sans-serif' font-size="10" font-weight="bold" text-anchor="start" fill="#000" textLength="8.8" lengthAdjust="spacingAndGlyphs">x1</text>
<text x="476.00" y="308.10" font-family='"Liberation Sans", sans-serif' font-size="9.6" font-weight="bold" text-anchor="start" fill="#000" textLength="19.2" lengthAdjust="spacingAndGlyphs">x326</text>
<text x="542.80" y="62.20" font-family='"Liberation Serif", serif' font-size="8.8" font-weight="bold" text-anchor="start" fill="#3550b0" textLength="31.2" lengthAdjust="spacingAndGlyphs">DAP-LO</text>
<text x="578.70" y="56.30" font-family='"Liberation Serif", serif' font-size="8.8" font-weight="bold" text-anchor="start" fill="#3550b0" textLength="16.6" lengthAdjust="spacingAndGlyphs">DAP</text>
<text x="622.90" y="31.80" font-family='"Liberation Serif", serif' font-size="8.8" font-weight="bold" text-anchor="start" fill="#3550b0" textLength="25.8" lengthAdjust="spacingAndGlyphs">(BECs)</text>
<text x="649.60" y="56.50" font-family='"Liberation Serif", serif' font-size="8.8" font-weight="bold" text-anchor="start" fill="#3550b0" textLength="10.6" lengthAdjust="spacingAndGlyphs">FX</text>
<text x="240.60" y="69.00" font-family='"Liberation Sans", sans-serif' font-size="8.7" font-weight="normal" text-anchor="end" fill="#000" >10K</text>
<text x="240.60" y="78.50" font-family='"Liberation Sans", sans-serif' font-size="8.7" font-weight="normal" text-anchor="end" fill="#000" >15K</text>
<text x="240.60" y="89.00" font-family='"Liberation Sans", sans-serif' font-size="8.7" font-weight="normal" text-anchor="end" fill="#000" >20K</text>
<text x="240.60" y="97.90" font-family='"Liberation Sans", sans-serif' font-size="8.7" font-weight="normal" text-anchor="end" fill="#000" >25K</text>
<text x="240.60" y="107.00" font-family='"Liberation Sans", sans-serif' font-size="8.7" font-weight="normal" text-anchor="end" fill="#000" >30K</text>
<text x="240.60" y="115.70" font-family='"Liberation Sans", sans-serif' font-size="8.7" font-weight="normal" text-anchor="end" fill="#000" >35K</text>
<text x="240.60" y="126.40" font-family='"Liberation Sans", sans-serif' font-size="8.7" font-weight="normal" text-anchor="end" fill="#000" >40K</text>
<text x="240.60" y="136.00" font-family='"Liberation Sans", sans-serif' font-size="8.7" font-weight="normal" text-anchor="end" fill="#000" >45K</text>
<text x="240.60" y="145.50" font-family='"Liberation Sans", sans-serif' font-size="8.7" font-weight="normal" text-anchor="end" fill="#000" >50K</text>
<text x="240.60" y="156.20" font-family='"Liberation Sans", sans-serif' font-size="8.7" font-weight="normal" text-anchor="end" fill="#000" >60K</text>
<text x="240.60" y="164.90" font-family='"Liberation Sans", sans-serif' font-size="8.7" font-weight="normal" text-anchor="end" fill="#000" >65K</text>
<text x="240.60" y="174.50" font-family='"Liberation Sans", sans-serif' font-size="8.7" font-weight="normal" text-anchor="end" fill="#000" >70K</text>
<text x="240.60" y="186.50" font-family='"Liberation Sans", sans-serif' font-size="8.7" font-weight="normal" text-anchor="end" fill="#000" >77K</text>
<text x="240.60" y="193.40" font-family='"Liberation Sans", sans-serif' font-size="8.7" font-weight="normal" text-anchor="end" fill="#000" >85K</text>
<text x="240.60" y="204.40" font-family='"Liberation Sans", sans-serif' font-size="8.7" font-weight="normal" text-anchor="end" fill="#000" >90K</text>
<text x="240.60" y="214.80" font-family='"Liberation Sans", sans-serif' font-size="8.7" font-weight="normal" text-anchor="end" fill="#000" >100K</text>
<text x="240.60" y="223.00" font-family='"Liberation Sans", sans-serif' font-size="8.7" font-weight="normal" text-anchor="end" fill="#000" >120K</text>
<text x="240.60" y="232.60" font-family='"Liberation Sans", sans-serif' font-size="8.7" font-weight="normal" text-anchor="end" fill="#000" >140K</text>
<text x="240.60" y="242.90" font-family='"Liberation Sans", sans-serif' font-size="8.7" font-weight="normal" text-anchor="end" fill="#000" >160K</text>
<text x="240.60" y="252.00" font-family='"Liberation Sans", sans-serif' font-size="8.7" font-weight="normal" text-anchor="end" fill="#000" >180K</text>
<text x="240.60" y="262.70" font-family='"Liberation Sans", sans-serif' font-size="8.7" font-weight="normal" text-anchor="end" fill="#000" >200K</text>
<text x="240.60" y="271.30" font-family='"Liberation Sans", sans-serif' font-size="8.7" font-weight="normal" text-anchor="end" fill="#000" >220K</text>
<text x="240.60" y="281.30" font-family='"Liberation Sans", sans-serif' font-size="8.7" font-weight="normal" text-anchor="end" fill="#000" >240K</text>
<text x="240.60" y="292.30" font-family='"Liberation Sans", sans-serif' font-size="8.7" font-weight="normal" text-anchor="end" fill="#000" >260K</text>
<text x="240.60" y="302.60" font-family='"Liberation Sans", sans-serif' font-size="8.7" font-weight="normal" text-anchor="end" fill="#000" >280K</text>
<text x="240.60" y="312.80" font-family='"Liberation Sans", sans-serif' font-size="8.7" font-weight="normal" text-anchor="end" fill="#000" >300K</text>
<text x="470.70" y="70.10" font-family='"Liberation Sans", sans-serif' font-size="8.7" font-weight="normal" text-anchor="end" fill="#000" >10K</text>
<text x="470.70" y="81.50" font-family='"Liberation Sans", sans-serif' font-size="8.7" font-weight="normal" text-anchor="end" fill="#000" >15K</text>
<text x="470.70" y="89.50" font-family='"Liberation Sans", sans-serif' font-size="8.7" font-weight="normal" text-anchor="end" fill="#000" >20K</text>
<text x="470.70" y="100.20" font-family='"Liberation Sans", sans-serif' font-size="8.7" font-weight="normal" text-anchor="end" fill="#000" >25K</text>
<text x="470.70" y="108.40" font-family='"Liberation Sans", sans-serif' font-size="8.7" font-weight="normal" text-anchor="end" fill="#000" >30K</text>
<text x="470.70" y="118.00" font-family='"Liberation Sans", sans-serif' font-size="8.7" font-weight="normal" text-anchor="end" fill="#000" >35K</text>
<text x="470.70" y="128.20" font-family='"Liberation Sans", sans-serif' font-size="8.7" font-weight="normal" text-anchor="end" fill="#000" >40K</text>
<text x="470.70" y="137.10" font-family='"Liberation Sans", sans-serif' font-size="8.7" font-weight="normal" text-anchor="end" fill="#000" >45K</text>
<text x="470.70" y="147.10" font-family='"Liberation Sans", sans-serif' font-size="8.7" font-weight="normal" text-anchor="end" fill="#000" >50K</text>
<text x="470.70" y="156.20" font-family='"Liberation Sans", sans-serif' font-size="8.7" font-weight="normal" text-anchor="end" fill="#000" >60K</text>
<text x="470.70" y="166.00" font-family='"Liberation Sans", sans-serif' font-size="8.7" font-weight="normal" text-anchor="end" fill="#000" >65K</text>
<text x="470.70" y="175.10" font-family='"Liberation Sans", sans-serif' font-size="8.7" font-weight="normal" text-anchor="end" fill="#000" >70K</text>
<text x="470.70" y="185.90" font-family='"Liberation Sans", sans-serif' font-size="8.7" font-weight="normal" text-anchor="end" fill="#000" >77K</text>
<text x="470.70" y="194.10" font-family='"Liberation Sans", sans-serif' font-size="8.7" font-weight="normal" text-anchor="end" fill="#000" >85K</text>
<text x="470.70" y="205.40" font-family='"Liberation Sans", sans-serif' font-size="8.7" font-weight="normal" text-anchor="end" fill="#000" >90K</text>
<text x="470.70" y="216.20" font-family='"Liberation Sans", sans-serif' font-size="8.7" font-weight="normal" text-anchor="end" fill="#000" >100K</text>
<text x="470.70" y="224.60" font-family='"Liberation Sans", sans-serif' font-size="8.7" font-weight="normal" text-anchor="end" fill="#000" >120K</text>
<text x="470.70" y="233.70" font-family='"Liberation Sans", sans-serif' font-size="8.7" font-weight="normal" text-anchor="end" fill="#000" >140K</text>
<text x="470.70" y="244.00" font-family='"Liberation Sans", sans-serif' font-size="8.7" font-weight="normal" text-anchor="end" fill="#000" >160K</text>
<text x="470.70" y="253.10" font-family='"Liberation Sans", sans-serif' font-size="8.7" font-weight="normal" text-anchor="end" fill="#000" >180K</text>
<text x="470.70" y="263.40" font-family='"Liberation Sans", sans-serif' font-size="8.7" font-weight="normal" text-anchor="end" fill="#000" >200K</text>
<text x="470.70" y="272.70" font-family='"Liberation Sans", sans-serif' font-size="8.7" font-weight="normal" text-anchor="end" fill="#000" >220K</text>
<text x="470.70" y="283.80" font-family='"Liberation Sans", sans-serif' font-size="8.7" font-weight="normal" text-anchor="end" fill="#000" >240K</text>
<text x="470.70" y="293.50" font-family='"Liberation Sans", sans-serif' font-size="8.7" font-weight="normal" text-anchor="end" fill="#000" >260K</text>
<text x="470.70" y="303.40" font-family='"Liberation Sans", sans-serif' font-size="8.7" font-weight="normal" text-anchor="end" fill="#000" >280K</text>
<text x="470.70" y="313.70" font-family='"Liberation Sans", sans-serif' font-size="8.7" font-weight="normal" text-anchor="end" fill="#000" >300K</text>
</svg>
</body></html>
